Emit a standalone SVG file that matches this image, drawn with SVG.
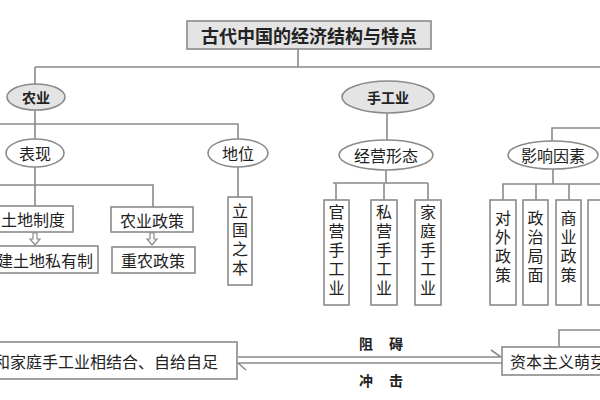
<svg xmlns="http://www.w3.org/2000/svg" width="600" height="400" viewBox="0 0 600 400">
<style>
.ln{fill:none;stroke:#8a8a8a;stroke-width:1.6}
.bx{fill:#fff;stroke:#8a8a8a;stroke-width:1.6}
.gb{fill:#e4e4e4;stroke:#8a8a8a;stroke-width:1.6}
.t{font-family:"Noto Sans CJK SC","Noto Sans CJK TC",sans-serif;fill:#222;text-anchor:middle;dominant-baseline:central}
.b{font-weight:bold}
.s{font-size:16px}
.v{font-family:"Noto Sans CJK SC","Noto Sans CJK TC",sans-serif;fill:#222;font-size:16px;writing-mode:vertical-rl;text-anchor:start;letter-spacing:3px}
.arr{fill:#fff;stroke:#8a8a8a;stroke-width:1.2}
</style>
<g id="connectors">
<path class="ln" d="M298,49 V67 M35,67 H600 M35,67 V84"/>
<path class="ln" d="M35,110 V139 M0,124 H238 V139"/>
<path class="ln" d="M35,167 V206 M0,185 H153 V207"/>
<path class="ln" d="M238,167 V197"/>
<path class="ln" d="M387,113 V140"/>
<path class="ln" d="M386,170 V183 M333,183 H428 M336,183 V200 M384,183 V200 M428,183 V200"/>
<path class="ln" d="M552,141 V128 H600"/>
<path class="ln" d="M553,169 V184 M502,184 H600 M503,184 V200 M536,184 V200 M569,184 V200"/>
<path class="ln" d="M559,347 V330 H600"/>
<path class="arr" d="M33,233 h4 v6 h3 l-5,6 l-5,-6 h3 z"/>
<path class="arr" d="M150,233 h4 v6 h3 l-5,6 l-5,-6 h3 z"/>
<path class="ln" d="M238,357 H501 M491,350 L501,357"/>
<path class="ln" d="M238,363 H502 M238,363 L246,370"/>
<text class="t b" x="389" y="343" font-size="14" letter-spacing="16">阻碍</text>
<text class="t b" x="389" y="380" font-size="14" letter-spacing="16">冲击</text>
</g>
<g id="title">
<rect class="gb" x="187" y="21" width="244" height="28"/>
<text class="t b" x="309" y="35" font-size="18">古代中国的经济结构与特点</text>
</g>
<g id="nongye">
<ellipse class="gb" cx="36" cy="97" rx="29" ry="13"/>
<text class="t b" x="36" y="97" font-size="14">农业</text>
</g>
<g id="shougongye">
<ellipse class="gb" cx="388" cy="97" rx="46" ry="16"/>
<text class="t b" x="388" y="97" font-size="14">手工业</text>
</g>
<g id="biaoxian">
<ellipse class="bx" cx="35" cy="153" rx="29" ry="14"/>
<text class="t s" x="35" y="153">表现</text>
</g>
<g id="diwei">
<ellipse class="bx" cx="238" cy="153" rx="30" ry="14"/>
<text class="t s" x="238" y="153">地位</text>
</g>
<g id="tudizhidu">
<rect class="bx" x="-5" y="206" width="78" height="26"/>
<text class="t s" x="33" y="219">土地制度</text>
</g>
<g id="fengjian">
<rect class="bx" x="-5" y="246" width="103" height="27"/>
<text class="t s" x="45" y="260">建土地私有制</text>
</g>
<g id="nongyezhengce">
<rect class="bx" x="111" y="207" width="82" height="25"/>
<text class="t s" x="152" y="219.5">农业政策</text>
</g>
<g id="zhongnong">
<rect class="bx" x="112" y="247" width="83" height="26"/>
<text class="t s" x="153" y="260">重农政策</text>
</g>
<g id="liguo">
<rect class="bx" x="228" y="197" width="24" height="88"/>
<text class="v" x="240" y="203">立国之本</text>
</g>
<g id="jingying">
<ellipse class="bx" cx="386" cy="155" rx="47" ry="15"/>
<text class="t s" x="386" y="155">经营形态</text>
</g>
<g id="guanying">
<rect class="bx" x="324" y="200" width="25" height="105"/>
<text class="v" x="336.5" y="204">官营手工业</text>
</g>
<g id="siying">
<rect class="bx" x="371" y="200" width="26" height="105"/>
<text class="v" x="384" y="204">私营手工业</text>
</g>
<g id="jiating">
<rect class="bx" x="415" y="200" width="26" height="105"/>
<text class="v" x="428" y="204">家庭手工业</text>
</g>
<g id="yingxiang">
<ellipse class="bx" cx="553" cy="155" rx="45" ry="14"/>
<text class="t s" x="553" y="155">影响因素</text>
</g>
<g id="duiwai">
<rect class="bx" x="490" y="200" width="26" height="105"/>
<text class="v" x="503" y="210">对外政策</text>
</g>
<g id="zhengzhi">
<rect class="bx" x="523" y="200" width="25" height="105"/>
<text class="v" x="535.5" y="210">政治局面</text>
</g>
<g id="shangye">
<rect class="bx" x="556" y="200" width="25" height="105"/>
<text class="v" x="568.5" y="210">商业政策</text>
</g>
<g id="fourth">
<rect class="bx" x="588" y="200" width="26" height="105"/>
</g>
<g id="ziran">
<rect class="bx" x="-5" y="342" width="242" height="37"/>
<text class="t s" x="218" y="361" style="text-anchor:end">和家庭手工业相结合、自给自足</text>
</g>
<g id="zibenzhuyi">
<rect class="bx" x="502" y="347" width="110" height="28"/>
<text class="t s" x="510" y="361" style="text-anchor:start">资本主义萌芽</text>
</g>
</svg>
